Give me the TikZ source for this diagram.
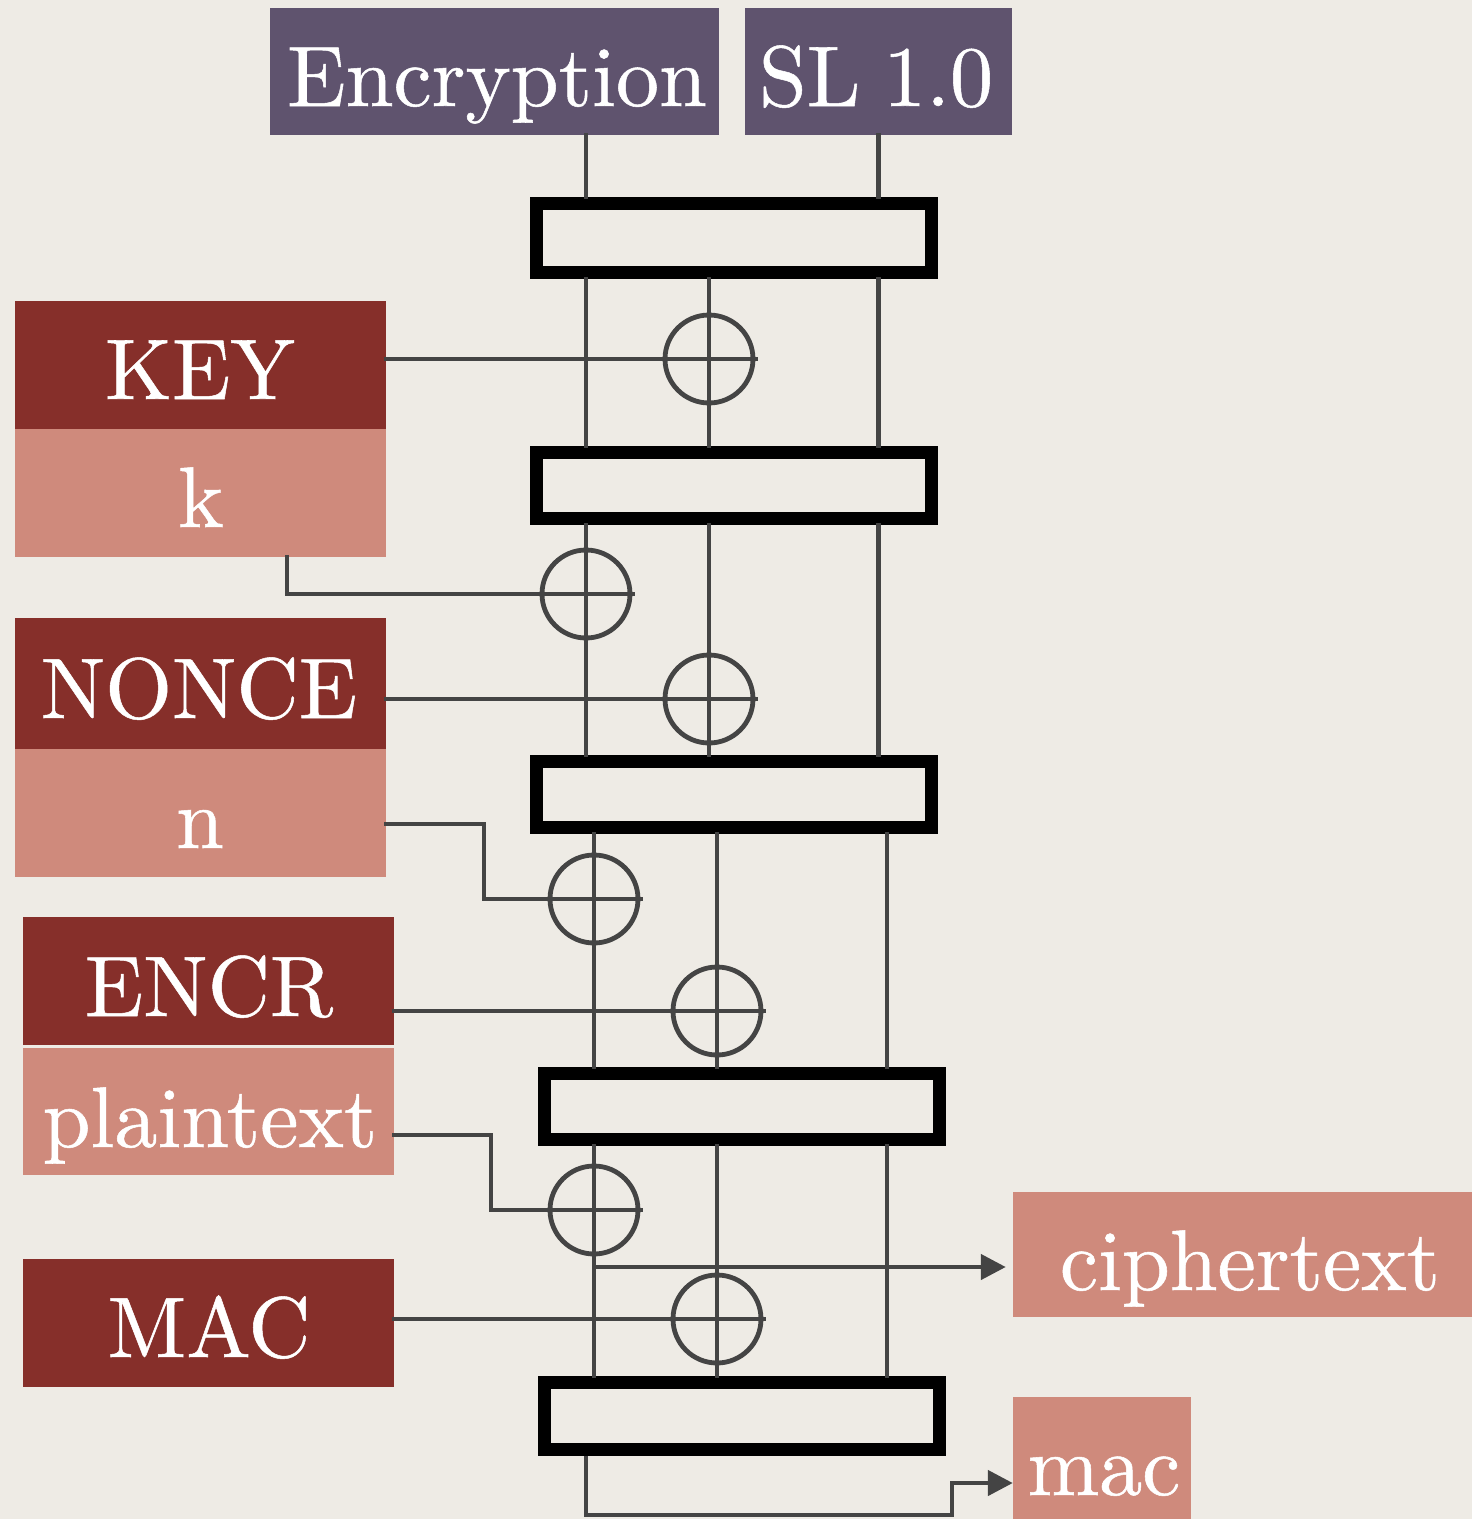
\documentclass[tikz,border=0pt]{standalone}
\usepackage{fontspec}
\newfontface\lblfont{lmroman10-regular.otf}[FakeBold=0.6]
\usetikzlibrary{arrows.meta}
\definecolor{bgc}{HTML}{EEEBE5}
\definecolor{hdr}{HTML}{5F536E}
\definecolor{dred}{HTML}{862F2A}
\definecolor{lred}{HTML}{CF8A7C}
\definecolor{wirec}{HTML}{444444}
\begin{document}
\begin{tikzpicture}[x=1pt,y=-1pt,
  wirestyle/.style={draw=wirec,line width=4.6pt,line cap=rect,line join=miter},
  arrowwire/.style={draw=wirec,line width=4.6pt,line join=miter,-{Triangle[length=25pt,width=25pt]}},
  blk/.style={draw=black,line width=13pt,rectangle,inner sep=0pt,minimum width=395pt},
  xorc/.style={circle,draw=wirec,line width=4.8pt,minimum size=88pt,inner sep=0pt},
  fbox/.style={rectangle,inner sep=0pt,draw=none},
  lbl/.style={anchor=base,text=white,font=\lblfont\fontsize{86}{90}\selectfont,inner sep=0pt}
]
\useasboundingbox (0,0) rectangle (1472,1519);
\clip (0,0) rectangle (1472,1519);
\fill[bgc] (0,0) rectangle (1472,1519);

% header boxes
\node[fbox,fill=hdr,minimum width=449pt,minimum height=127pt] (enc) at (494.5,71.5) {};
\node[fbox,fill=hdr,minimum width=267pt,minimum height=127pt] (sl) at (878.5,71.5) {};
\node[lbl] (tEnc) at (497,106) {Encryption};
\node[lbl] (tSL) at (876,106) {SL\hspace{-6pt} 1.0};

% left boxes
\node[fbox,fill=dred,minimum width=371pt,minimum height=128pt] (key) at (200.5,365) {};
\node[fbox,fill=lred,minimum width=371pt,minimum height=128pt] (kv) at (200.5,493) {};
\node[fbox,fill=dred,minimum width=371pt,minimum height=131pt] (nonce) at (200.5,683.5) {};
\node[fbox,fill=lred,minimum width=371pt,minimum height=128pt] (nv) at (200.5,813) {};
\node[fbox,fill=dred,minimum width=371pt,minimum height=128pt] (encr) at (208.5,981) {};
\node[fbox,fill=lred,minimum width=371pt,minimum height=127pt] (pt) at (208.5,1111.5) {};
\node[fbox,fill=dred,minimum width=371pt,minimum height=128pt] (mac) at (208.5,1323) {};
\node[fbox,fill=lred,minimum width=507pt,minimum height=125pt] (ct) at (1266.5,1254.5) {};
\node[fbox,fill=lred,minimum width=178pt,minimum height=163pt] (mo) at (1102,1478.5) {};

\node[lbl] (tKey) at (200,399) {KEY};
\node[lbl] (tK) at (201,527) {k};
\node[lbl] (tNonce) at (199,718) {NONCE};
\node[lbl] (tN) at (200,848) {n};
\node[lbl] (tEncr) at (209,1016) {ENCR};
\node[lbl] (tPt) at (210,1147) {plaintext};
\node[lbl] (tMac) at (209,1357) {MAC};
\node[lbl] (tCt) at (1250,1290) {ciphertext};
\node[lbl] (tMo) at (1104,1495) {mac};

% round boxes
\node[blk,minimum height=69pt] (b1) at (734,238) {};
\node[blk,minimum height=66pt] (b2) at (734,485.5) {};
\node[blk,minimum height=66pt] (b3) at (734,794.5) {};
\node[blk,minimum height=66pt] (b4) at (742,1106.5) {};
\node[blk,minimum height=67pt] (b5) at (742,1416) {};

% xor gates
\node[xorc] (xK) at (709,359) {};
\node[xorc] (xk) at (586,594) {};
\node[xorc] (xN) at (709,699) {};
\node[xorc] (xn) at (594,899) {};
\node[xorc] (xE) at (717,1011) {};
\node[xorc] (xp) at (594,1210) {};
\node[xorc] (xM) at (717,1319) {};

% helper coordinates
\coordinate (cC) at (887,1000);
\coordinate (kb) at (287,594);
\coordinate (nb) at (484,824);
\coordinate (pb) at (491,1135);
\coordinate (ca) at (594,1267);
\coordinate (ob1) at (586,1515);
\coordinate (ob2) at (952,1515);
\coordinate (ob3) at (952,1483);

% header to first box
\draw[wirestyle] (enc.south -| xk) -- (b1.north -| xk);
\draw[wirestyle] (sl.south) -- (b1.north -| sl.south);

% b1 -> b2
\draw[wirestyle] (b1.south -| xk) -- (b2.north -| xk);
\draw[wirestyle] (b1.south -| xK) -- (b2.north -| xK);
\draw[wirestyle] (b1.south -| sl.south) -- (b2.north -| sl.south);
\draw[wirestyle] (key.east |- xK) -- (xK.east);

% b2 -> b3
\draw[wirestyle] (b2.south -| xk) -- (b3.north -| xk);
\draw[wirestyle] (b2.south -| xN) -- (b3.north -| xN);
\draw[wirestyle] (b2.south -| sl.south) -- (b3.north -| sl.south);
\draw[wirestyle] (kv.south -| kb) -- (kb) -- (xk.east);
\draw[wirestyle] (nonce.east |- xN) -- (xN.east);

% b3 -> b4
\draw[wirestyle] (b3.south -| xn) -- (b4.north -| xn);
\draw[wirestyle] (b3.south -| xE) -- (b4.north -| xE);
\draw[wirestyle] (b3.south -| cC) -- (b4.north -| cC);
\draw[wirestyle] (nv.east |- nb) -- (nb) -- (nb |- xn) -- (xn.east);
\draw[wirestyle] (encr.east |- xE) -- (xE.east);

% b4 -> b5
\draw[wirestyle] (b4.south -| xp) -- (b5.north -| xp);
\draw[wirestyle] (b4.south -| xM) -- (b5.north -| xM);
\draw[wirestyle] (b4.south -| cC) -- (b5.north -| cC);
\draw[wirestyle] (pt.east |- pb) -- (pb) -- (pb |- xp) -- (xp.east);
\draw[wirestyle] (mac.east |- xM) -- (xM.east);
\draw[arrowwire,shorten >=7pt] (ca) -- (ca -| ct.west);

% output mac
\draw[arrowwire] (b5.south -| ob1) -- (ob1) -- (ob2) -- (ob3) -- (ob3 -| mo.west);
\end{tikzpicture}
\end{document}
